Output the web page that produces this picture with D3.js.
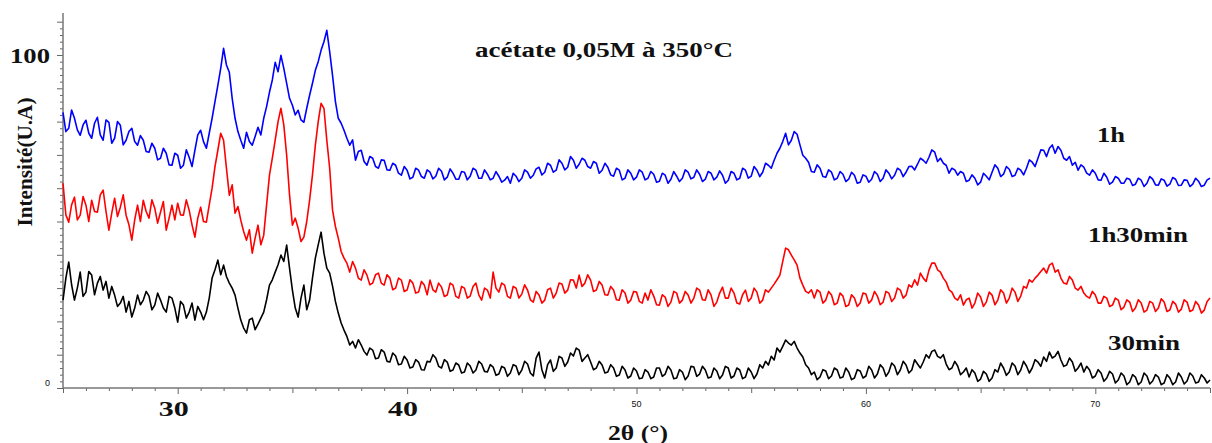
<!DOCTYPE html>
<html>
<head>
<meta charset="utf-8">
<script src="https://cdn.jsdelivr.net/npm/d3@7/dist/d3.min.js"></script>
<style>
html,body{margin:0;padding:0;background:#fff;}
svg{display:block;}
</style>
</head>
<body>
<svg id="chart" width="1212" height="443"></svg>
<script>
// 2θ sampling grid
const twoThetaStart = 25;
const twoThetaStep = 0.125;

// Series (intensity, arbitrary units, stacked as in the figure)
const series1h = [
82.8,77.0,78.0,83.5,81.0,77.5,75.9,79.0,80.4,76.5,75.0,79.5,81.3,76.0,74.4,80.5,79.8,73.5,75.0,80.0,
78.9,73.0,74.4,77.0,78.0,74.0,72.9,75.8,74.4,71.0,70.8,73.5,72.0,68.5,69.0,72.0,70.5,67.0,66.9,70.5,
69.9,66.0,66.9,71.5,69.3,66.5,71.4,76.0,77.4,74.0,72.0,76.5,81.0,86.0,90.9,96.0,102.0,97.0,94.8,87.0,
81.0,77.0,74.4,72.0,76.8,74.0,72.9,75.5,78.3,76.0,81.0,84.5,88.8,92.5,97.8,95.0,99.9,96.0,91.5,87.0,
84.9,82.0,83.4,80.5,79.8,84.0,87.9,91.5,95.4,98.0,101.4,104.0,107.4,101.0,93.9,86.0,81.0,79.5,77.4,75.0,
72.9,74.5,68.4,71.0,71.4,68.0,66.9,69.5,69.0,66.5,66.0,68.5,68.4,65.5,65.4,67.5,66.9,64.5,63.9,66.5,
65.4,62.8,63.3,66.0,65.4,63.5,63.0,65.5,64.8,62.8,63.6,66.0,65.1,62.5,63.3,65.8,64.5,62.7,62.7,65.0,
64.8,62.5,63.6,66.0,65.4,63.0,63.0,65.5,64.2,62.5,63.0,65.0,63.6,61.8,62.4,63.5,61.5,64.5,63.6,62.0,
63.0,65.5,64.8,63.0,63.9,65.8,66.3,64.0,64.8,67.5,66.9,64.8,65.4,68.5,67.5,65.5,66.3,69.5,68.4,66.0,
67.2,69.0,68.4,66.5,66.0,68.0,67.5,64.5,65.4,67.5,66.3,64.0,63.6,66.0,65.4,62.5,63.0,65.5,64.5,62.5,
63.3,65.5,64.8,62.5,63.0,65.0,64.2,61.8,62.1,64.5,63.9,61.5,62.7,65.0,63.6,62.0,63.0,65.5,64.8,62.8,
63.3,65.5,64.2,62.0,62.7,65.0,64.5,62.5,63.3,65.2,63.9,61.5,62.4,65.0,64.5,62.5,63.0,66.0,65.4,63.0,
63.6,66.5,65.4,63.5,64.8,67.5,66.9,66.0,68.4,70.5,72.0,74.0,76.5,73.0,74.4,77.0,76.2,73.0,69.9,69.0,
67.8,65.0,64.8,67.0,66.0,63.5,63.3,65.5,64.8,62.5,63.0,65.0,64.2,62.0,62.7,64.8,63.9,61.5,61.8,64.0,
63.6,61.8,62.7,65.0,64.2,62.0,63.0,65.5,64.5,62.8,63.9,66.0,65.4,63.5,64.8,66.5,66.6,65.5,67.2,69.0,
68.4,67.5,69.3,71.5,70.8,68.0,69.0,67.5,66.9,64.5,66.0,65.5,63.9,65.0,64.5,62.0,62.4,64.0,63.0,61.0,
61.8,64.5,63.6,62.5,64.8,67.0,66.0,63.5,64.2,66.5,65.7,63.5,63.9,66.0,65.4,64.0,66.0,68.5,67.8,66.5,
69.0,71.5,71.4,69.5,72.0,73.0,70.5,72.5,71.4,69.0,68.4,69.5,66.9,67.8,65.4,67.0,66.3,64.5,63.9,65.5,
64.5,62.5,62.4,64.5,63.3,61.2,61.8,63.5,63.0,61.5,61.5,63.0,62.7,60.8,61.2,63.0,62.4,60.5,61.5,63.5,
62.7,61.0,60.9,62.8,62.4,60.6,61.2,63.2,62.7,60.8,60.9,62.5,62.4,60.5,61.2,63.0,62.1,60.5,60.9,62.5,
63.0];

const series1h30 = [
61.5,52.0,49.8,55.0,57.3,50.5,51.9,57.5,54.9,50.0,56.4,53.0,52.8,58.0,59.4,53.0,47.4,52.5,57.0,51.5,
54.3,58.0,51.9,49.0,44.4,50.5,54.9,50.0,56.4,53.0,51.0,56.5,54.0,49.5,52.8,56.0,47.4,51.0,54.9,50.5,
55.5,52.0,51.9,56.5,53.4,49.0,45.3,51.0,54.3,50.0,49.8,55.0,60.0,66.5,71.4,76.5,74.4,66.0,57.9,61.0,
52.5,54.5,50.4,47.0,44.4,47.5,40.5,45.0,48.9,43.0,45.9,55.0,63.9,69.0,74.4,80.0,84.0,79.0,69.9,58.0,
48.9,51.0,48.0,44.0,45.3,50.0,56.4,64.0,72.9,80.0,85.5,84.0,74.4,66.0,53.4,48.5,45.0,41.0,39.0,37.5,
34.8,38.0,36.0,33.0,32.4,35.5,33.9,31.0,31.5,34.0,34.5,31.5,30.9,34.0,33.0,29.5,30.0,33.0,32.4,29.0,
29.4,32.5,31.5,28.5,28.8,32.0,30.9,28.0,32.4,29.5,28.8,31.5,30.3,27.5,27.9,31.5,30.9,27.5,27.0,30.5,
30.0,27.0,27.6,30.5,31.5,28.0,26.4,30.0,29.4,27.0,34.8,30.0,28.8,31.5,30.9,27.5,27.0,30.5,30.0,27.0,
28.2,31.0,29.4,26.5,25.8,29.0,27.9,25.5,26.4,29.5,30.0,27.0,28.5,31.5,31.2,28.5,29.4,32.5,32.4,30.0,
33.9,30.5,31.5,34.0,32.4,29.0,29.4,32.0,30.9,28.0,27.9,30.5,29.4,26.5,26.4,29.5,28.5,25.5,26.4,29.0,
28.8,26.0,25.5,28.5,26.4,29.5,27.6,25.0,24.9,28.0,27.3,24.5,25.8,29.0,28.5,25.5,26.4,29.0,27.9,25.5,
27.0,30.0,29.4,26.5,26.4,29.5,27.9,24.5,25.8,28.5,30.3,27.0,27.0,30.0,28.5,25.5,25.2,28.0,29.4,26.0,
27.0,30.0,28.8,25.5,26.4,29.5,28.8,30.0,31.2,32.5,33.9,38.0,42.0,41.5,39.9,38.5,36.9,33.0,30.9,29.0,
28.5,29.5,27.0,29.5,28.8,25.5,26.4,29.0,27.9,25.0,25.5,28.5,27.6,24.5,24.9,28.0,27.0,24.5,25.5,28.5,
28.2,25.5,26.4,29.0,27.6,25.0,25.8,29.0,28.5,26.0,27.0,30.0,29.4,27.0,27.9,31.0,30.3,32.5,30.9,34.5,
33.0,32.0,35.4,37.5,37.5,35.5,34.8,33.0,31.8,29.5,28.8,27.0,26.4,28.0,24.9,26.5,27.0,24.0,25.5,28.5,
27.3,24.5,25.8,28.8,27.9,25.0,26.4,29.5,28.5,25.5,27.0,30.0,28.8,26.0,27.6,30.5,30.0,32.5,31.8,33.0,
33.9,35.0,36.0,34.5,36.9,37.5,34.8,35.5,33.0,31.5,31.2,33.5,32.4,30.0,29.4,30.5,28.5,27.5,27.0,29.0,
27.9,25.5,25.5,27.5,27.0,24.5,24.9,27.0,26.4,23.5,24.3,26.5,25.8,23.0,24.0,26.5,25.5,22.8,23.4,26.0,
25.5,23.0,24.0,26.8,25.8,23.0,23.4,26.0,25.2,22.8,23.7,26.5,25.8,23.0,23.4,26.0,24.9,22.5,23.4,26.0,
27.0];

const series30 = [
26.4,33.0,37.8,31.0,26.4,30.0,34.8,27.5,28.8,35.0,33.9,28.0,31.5,33.5,29.4,32.0,27.0,30.5,27.9,24.5,
25.5,27.5,22.8,26.0,21.3,24.0,27.9,25.0,26.4,29.0,27.6,23.5,24.9,28.5,26.4,24.0,22.8,27.5,27.0,24.0,
19.8,26.0,24.9,21.0,22.8,25.5,20.4,24.5,22.8,20.5,22.8,27.0,33.0,35.5,38.4,34.0,36.9,33.5,31.5,30.0,
27.9,24.0,20.4,18.0,16.5,20.5,21.0,17.5,19.2,21.0,22.8,26.5,30.9,32.5,34.8,37.0,39.9,38.0,42.9,36.0,
29.4,24.0,21.3,27.0,30.9,23.5,26.4,33.0,39.0,43.0,46.8,40.5,36.0,34.5,30.6,26.0,22.5,19.5,17.4,15.5,
12.9,14.0,12.0,14.5,12.9,11.0,9.9,12.0,11.4,8.8,9.0,11.5,10.8,8.0,7.8,10.5,9.6,7.0,7.2,9.5,
8.4,6.0,6.3,8.5,7.8,5.5,5.4,8.0,7.8,10.0,9.0,6.5,6.0,8.5,7.8,5.0,5.4,7.5,6.9,4.5,
4.8,7.5,6.6,4.5,5.4,8.0,7.2,5.0,4.8,7.0,6.3,3.8,4.2,6.5,6.0,3.5,4.5,7.0,6.6,4.0,
5.4,8.0,7.2,4.5,3.6,9.0,10.8,5.5,3.0,7.0,8.4,5.0,6.0,9.5,9.0,6.5,7.8,10.5,9.6,12.0,
11.4,8.0,9.0,10.0,7.8,5.5,6.0,8.0,6.9,4.5,4.8,7.0,6.0,3.5,3.9,6.5,5.4,3.0,3.6,6.0,
5.1,2.8,3.0,5.5,4.8,2.8,3.3,6.0,6.0,3.5,4.2,6.5,5.4,2.8,3.0,5.5,4.8,2.5,3.6,6.5,
6.3,3.5,4.2,6.5,5.4,3.0,3.3,6.0,5.1,2.8,3.9,6.5,6.0,3.0,3.6,6.0,5.4,2.8,3.3,6.0,
4.8,2.8,4.2,7.0,6.0,8.0,6.9,9.5,8.4,12.0,10.8,12.5,14.4,13.5,12.9,14.0,12.0,10.5,9.3,7.0,
6.0,4.0,4.8,2.5,3.3,5.5,5.1,2.8,3.6,6.0,5.4,3.0,3.3,6.0,4.8,2.5,3.0,5.5,5.1,3.0,
3.6,6.5,5.4,3.0,4.2,7.0,6.0,3.5,4.8,7.5,6.6,4.0,5.4,8.0,6.9,4.5,5.4,8.5,7.2,6.0,
7.8,10.0,9.0,11.0,11.4,9.5,9.0,10.0,7.2,5.5,6.0,8.0,6.6,4.0,4.8,6.0,3.3,5.5,4.5,2.0,
2.7,5.0,4.2,2.0,3.0,5.5,4.8,7.5,6.0,3.8,4.8,7.5,6.6,4.0,5.4,8.0,6.6,4.5,6.0,8.5,
7.8,6.5,9.3,8.0,10.8,9.0,9.6,11.0,8.4,6.5,6.9,9.0,7.8,5.0,6.0,7.5,4.8,6.5,5.4,3.0,
3.6,5.5,4.5,2.0,3.0,5.0,4.2,1.5,2.4,4.5,3.6,1.0,1.8,4.0,3.3,1.0,1.8,4.5,3.6,1.2,
2.1,4.0,3.3,1.0,1.5,4.0,3.0,1.0,1.8,4.5,3.3,1.2,2.1,4.5,3.6,1.5,1.8,4.0,3.0,1.5,
2.4];

const seriesNames = ["1h", "1h30min", "30min"];
const seriesColors = ["#0000ff", "#ff0000", "#000000"];
const xMajorTicks = [30, 40, 50, 60, 70];
const yTickLabels = [0, 100];
const title = "acétate 0,05M à 350°C";
const xTitle = "2θ (°)";
const yTitle = "Intensité(U.A)";

const svg = d3.select("#chart");
const x = d3.scaleLinear().domain([25, 75]).range([63, 1210]);
const y = d3.scaleLinear().domain([0, 100]).range([388, 55]);
const yTop = 112.6;

const serif = "'Liberation Serif','Times New Roman',serif";
const sans = "'Liberation Sans',Arial,sans-serif";

function txt(t, px, py, opts) {
  const el = svg.append("text").attr("x", px).attr("y", py)
    .attr("font-family", opts.family || serif)
    .attr("font-weight", opts.weight || "bold")
    .attr("font-size", opts.size || 20)
    .attr("text-anchor", opts.anchor || "start")
    .attr("fill", "#111").text(t);
  if (opts.len) el.attr("textLength", opts.len).attr("lengthAdjust", "spacingAndGlyphs");
  if (opts.transform) el.attr("transform", opts.transform);
  return el;
}

// Y axis
const yAxis = d3.axisLeft(y).tickValues(d3.range(0, 112, 2)).tickFormat("")
  .tickSizeInner(3).tickSizeOuter(0);
const gy = svg.append("g").attr("transform", "translate(63,0)").call(yAxis);
gy.select(".domain").remove();
gy.selectAll(".tick line").attr("stroke", "#666")
  .attr("x2", d => (d % 10 === 0 ? -6 : -3));
svg.append("line").attr("x1", 63).attr("x2", 63).attr("y1", y(yTop)).attr("y2", y(0))
  .attr("stroke", "#777").attr("stroke-width", 1.5);

// X axis
const xAxis = d3.axisBottom(x).tickValues(d3.range(25, 76, 1)).tickFormat("")
  .tickSizeInner(3).tickSizeOuter(0);
const gx = svg.append("g").attr("transform", "translate(0,388)").call(xAxis);
gx.select(".domain").remove();
gx.selectAll(".tick line").attr("stroke", "#666")
  .attr("y2", d => (d % 10 === 0 ? 6 : (d % 5 === 0 ? 5 : 3)));
svg.append("line").attr("x1", x(25)).attr("x2", x(75)).attr("y1", 388).attr("y2", 388)
  .attr("stroke", "#777").attr("stroke-width", 1.5);

// X tick labels (30, 40 big bold serif; 50..70 small sans as in figure)
xMajorTicks.forEach(v => {
  if (v < 50) {
    txt(v, x(v) - 4, 416, {anchor: "middle", size: 21, len: 30});
  } else {
    txt(v, x(v), 407, {anchor: "middle", family: sans, weight: "normal", size: 9});
  }
});
// Y tick labels
yTickLabels.forEach(v => {
  if (v === 100) txt(v, 10, y(v) + 8, {size: 20, len: 40});
  else txt(v, 50, y(v) - 2, {anchor: "end", family: sans, weight: "normal", size: 9});
});

// Lines
const line = d3.line()
  .x((d, i) => x(twoThetaStart + i * twoThetaStep))
  .y(d => y(d));
[series1h, series1h30, series30].forEach((s, k) => {
  svg.append("path").datum(s).attr("d", line)
    .attr("fill", "none").attr("stroke", seriesColors[k])
    .attr("stroke-width", 1.6).attr("stroke-linejoin", "round");
});

// Series labels
const labelPos = [[1097, 142, 28], [1088, 242, 100], [1108, 350, 72]];
seriesNames.forEach((n, k) => {
  txt(n, labelPos[k][0], labelPos[k][1], {size: 20, len: labelPos[k][2]});
});

// Title
txt(title, 475, 57, {size: 20, len: 258});

// Axis titles
txt(xTitle, 608, 440, {size: 20, len: 60});
txt(yTitle, 0, 0, {anchor: "middle", size: 20, len: 129, transform: "translate(32,162) rotate(-90)"});
</script>
</body>
</html>
